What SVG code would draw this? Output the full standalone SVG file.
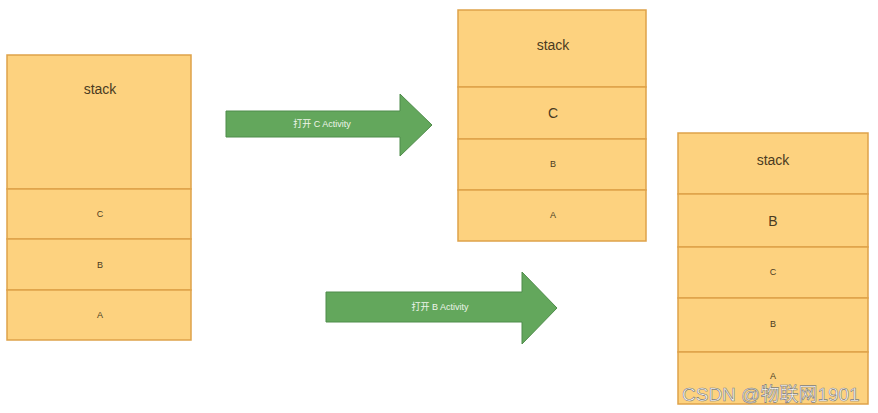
<svg xmlns="http://www.w3.org/2000/svg" width="878" height="413" viewBox="0 0 878 413">
<style>
.cell{fill:#fdd27f;stroke:#dea24a;stroke-width:1.5}
.arrow{fill:#63a75c;stroke:#4f8c4a;stroke-width:1}
.t{font-family:"Liberation Sans",Arial,sans-serif;fill:#4a3b22;text-anchor:middle;dominant-baseline:central}
.big{font-size:14px}
.small{font-size:9px}
.at{font-family:"Liberation Sans","Noto Sans CJK SC",sans-serif;font-size:9px;fill:#eef5ea;text-anchor:middle;dominant-baseline:central}
.wm{font-family:"Liberation Sans","Noto Sans CJK SC",sans-serif;font-size:19px;fill:#ffffff;stroke:#7a7a7a;stroke-width:0.6}
</style>
<rect width="878" height="413" fill="#ffffff"/>
<g id="stack-left">
<rect class="cell" x="7" y="55" width="184" height="134"/>
<rect class="cell" x="7" y="189" width="184" height="50"/>
<rect class="cell" x="7" y="239" width="184" height="51"/>
<rect class="cell" x="7" y="290" width="184" height="50"/>
<text class="t big" x="100" y="89">stack</text>
<text class="t small" x="100" y="214">C</text>
<text class="t small" x="100" y="265">B</text>
<text class="t small" x="100" y="315">A</text>
</g>
<g id="stack-middle">
<rect class="cell" x="458" y="10" width="188" height="77"/>
<rect class="cell" x="458" y="87" width="188" height="52"/>
<rect class="cell" x="458" y="139" width="188" height="51"/>
<rect class="cell" x="458" y="190" width="188" height="51"/>
<text class="t big" x="553" y="45">stack</text>
<text class="t big" x="553" y="113">C</text>
<text class="t small" x="553" y="164">B</text>
<text class="t small" x="553" y="215">A</text>
</g>
<g id="stack-right">
<rect class="cell" x="678" y="133" width="190" height="61"/>
<rect class="cell" x="678" y="194" width="190" height="53"/>
<rect class="cell" x="678" y="247" width="190" height="51"/>
<rect class="cell" x="678" y="298" width="190" height="54"/>
<rect class="cell" x="678" y="352" width="190" height="52"/>
<text class="t big" x="773" y="160">stack</text>
<text class="t big" x="773" y="221">B</text>
<text class="t small" x="773" y="272">C</text>
<text class="t small" x="773" y="324">B</text>
<text class="t small" x="773" y="376">A</text>
</g>
<g id="connectors">
<g id="arrow-c">
<polygon class="arrow" points="226,111 400,111 400,94 432,125 400,156 400,137 226,137"/>
<text class="at" x="322" y="124">打开 C Activity</text>
</g>
<g id="arrow-b">
<polygon class="arrow" points="326,292 522,292 522,272 557,308 522,344 522,322 326,322"/>
<text class="at" x="440" y="307">打开 B Activity</text>
</g>
</g>
<text class="wm" x="682" y="401">CSDN @物联网1901</text>
</svg>
